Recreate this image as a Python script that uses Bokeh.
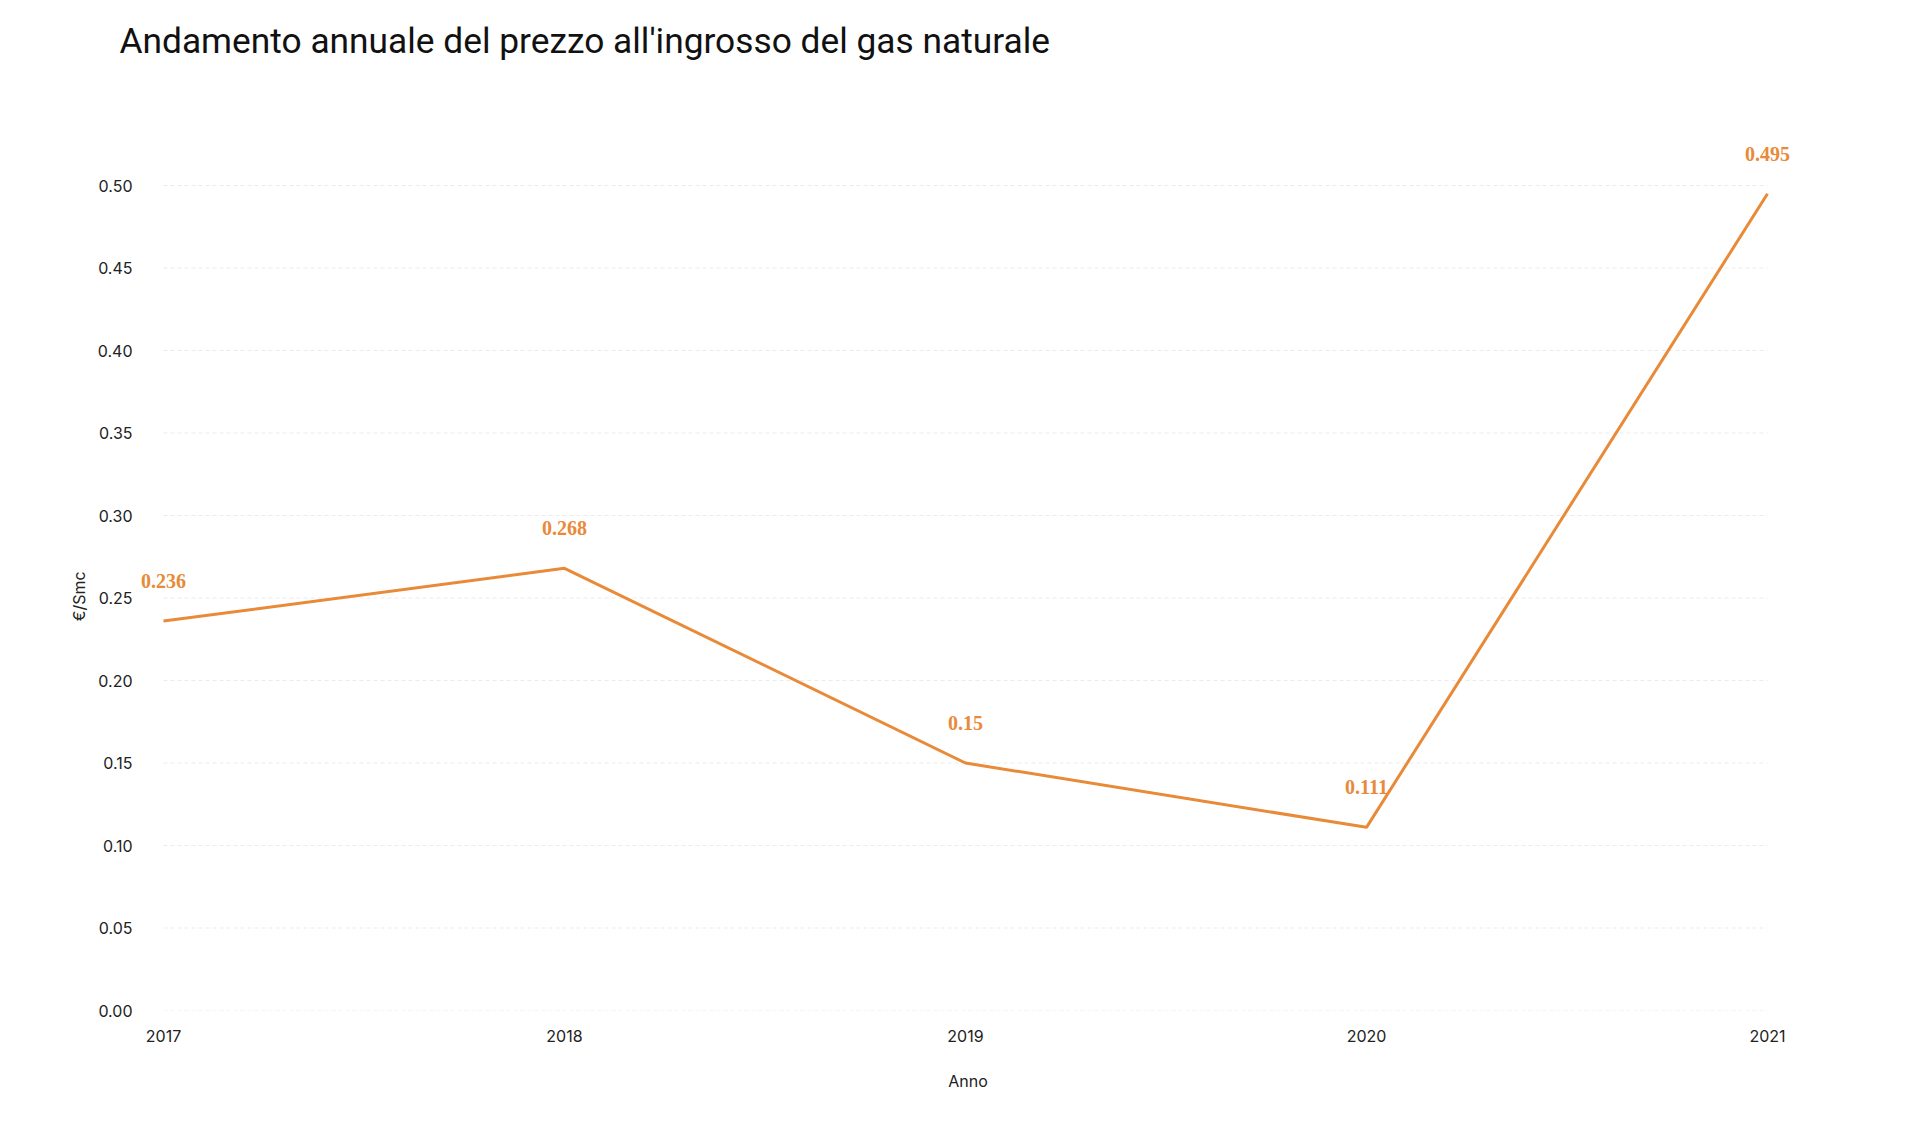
from bokeh.plotting import figure
from bokeh.models import ColumnDataSource, Range1d, FixedTicker, LabelSet, CustomJSTickFormatter
from bokeh.embed import file_html
from bokeh.resources import INLINE

years = [2017, 2018, 2019, 2020, 2021]
prices = [0.236, 0.268, 0.15, 0.111, 0.495]
labels = ["0.236", "0.268", "0.15", "0.111", "0.495"]
y_ticks = [0.0, 0.05, 0.10, 0.15, 0.20, 0.25, 0.30, 0.35, 0.40, 0.45, 0.50]

title_text = "Andamento annuale del prezzo all'ingrosso del gas naturale"
x_title = "Anno"
y_title = "€/Smc"
ORANGE = "#e88a38"

src = ColumnDataSource(dict(x=years, y=prices, lab=labels))
grid_src = ColumnDataSource(dict(x0=[years[0]] * len(y_ticks), x1=[years[-1]] * len(y_ticks),
                                 y=y_ticks))

p = figure(width=1900, height=1100, output_backend="svg", toolbar_location=None,
           x_range=Range1d(2016.9302, 2021.0823), y_range=Range1d(0, 0.56485),
           min_border_left=135, min_border_right=100, min_border_top=78,
           min_border_bottom=90, title=title_text)
p.outline_line_color = None
p.background_fill_color = "white"

p.title.text_font = "Roboto"
p.title.text_font_size = "35.3px"
p.title.text_font_style = "normal"
p.title.text_color = "#111111"
p.title.align = "left"
p.title.vertical_align = "bottom"
p.title.offset = -16
p.title.standoff = 33

# dashed horizontal gridlines spanning the data extent
p.segment(x0="x0", y0="y", x1="x1", y1="y", source=grid_src,
          line_color="#ebebeb", line_dash="4 3", line_width=1)

p.line("x", "y", source=src, line_color=ORANGE, line_width=3)

ls = LabelSet(x="x", y="y", text="lab", source=src, y_offset=40,
              text_align="center", text_baseline="middle",
              text_font="DejaVu Serif", text_font_style="bold",
              text_font_size="20px", text_color=ORANGE)
p.add_layout(ls)

p.xaxis.ticker = FixedTicker(ticks=years)
p.yaxis.ticker = FixedTicker(ticks=y_ticks)
p.yaxis.formatter = CustomJSTickFormatter(code="return tick.toFixed(2);")

for ax in (p.xaxis[0], p.yaxis[0]):
    ax.axis_line_color = None
    ax.major_tick_line_color = None
    ax.minor_tick_line_color = None
    ax.major_label_text_font = "Inter"
    ax.major_label_text_font_size = "16px"
    ax.major_label_text_color = "#222222"
    ax.axis_label_text_font = "Inter"
    ax.axis_label_text_font_size = "16px"
    ax.axis_label_text_font_style = "normal"
    ax.axis_label_text_color = "#222222"

p.xaxis.axis_label = x_title
# trailing non-breaking spaces centre the rotated label on the 0-0.50 span
p.yaxis.axis_label = y_title + "\u00a0" * 23
p.xaxis.major_label_standoff = 13
p.xaxis.axis_label_standoff = 26
p.yaxis.major_label_standoff = -3
p.yaxis.axis_label_standoff = 6

p.xgrid.grid_line_color = None
p.ygrid.grid_line_color = None

open("out.html", "w").write(file_html(p, INLINE))
